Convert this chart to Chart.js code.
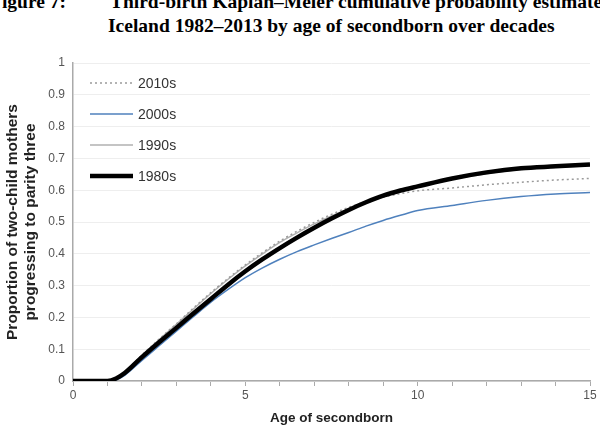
<!DOCTYPE html>
<html>
<head>
<meta charset="utf-8">
<script src="https://cdn.jsdelivr.net/npm/chart.js@4"></script>
<style>
  body { margin: 0; background: #fff; }
  #wrap { position: relative; width: 600px; height: 430px; overflow: hidden; }
  #title { position: absolute; left: 0; top: -10px; width: 600px; font: bold 19.5px "Liberation Serif", "Times New Roman", serif; color: #000; line-height: 24px; white-space: nowrap; }
  #title div { position: relative; }
  canvas { position: absolute; left: 0; top: 0; }
</style>
</head>
<body>
<div id="wrap">
  <div id="title">
    <div style="left:-10px">Figure 7:&nbsp;&nbsp;&nbsp;&nbsp;&nbsp;&nbsp;&nbsp;&nbsp;&nbsp;Third-birth Kaplan–Meier cumulative probability estimates for</div>
    <div style="left:108px">Iceland 1982–2013 by age of secondborn over decades</div>
  </div>
  <canvas id="chart" width="600" height="430"></canvas>
</div>
<script>
// age of secondborn (years)
const ages = [0, 0.5, 1, 1.25, 1.5, 2, 2.5, 3, 3.5, 4, 4.5, 5, 5.5, 6, 6.5, 7, 7.5, 8, 8.5, 9, 9.5, 10, 11, 12, 13, 14, 15];

const s2010 = [0, 0, 0, 0.008, 0.028, 0.082, 0.132, 0.18, 0.23, 0.278, 0.323, 0.365, 0.404, 0.44, 0.471, 0.499, 0.524, 0.546, 0.564, 0.578, 0.589, 0.598, 0.607, 0.617, 0.625, 0.632, 0.637];
const s2000 = [0, 0, 0, 0.004, 0.018, 0.065, 0.111, 0.157, 0.203, 0.248, 0.288, 0.325, 0.356, 0.383, 0.407, 0.428, 0.448, 0.467, 0.487, 0.505, 0.521, 0.536, 0.552, 0.568, 0.58, 0.588, 0.593];
const s1990 = [0, 0, 0, 0.008, 0.027, 0.08, 0.13, 0.178, 0.227, 0.275, 0.32, 0.362, 0.4, 0.436, 0.466, 0.494, 0.519, 0.541, 0.561, 0.579, 0.596, 0.609, 0.634, 0.652, 0.665, 0.672, 0.677];
const s1980 = [0, 0, 0, 0.008, 0.025, 0.075, 0.122, 0.167, 0.213, 0.258, 0.303, 0.345, 0.383, 0.418, 0.451, 0.482, 0.511, 0.538, 0.562, 0.583, 0.599, 0.612, 0.637, 0.656, 0.669, 0.675, 0.681];

const yTicks = [0, 0.1, 0.2, 0.3, 0.4, 0.5, 0.6, 0.7, 0.8, 0.9, 1];
const xLabels = [0, 5, 10, 15];

const pts = arr => ages.map((a, i) => ({ x: a, y: arr[i] }));

// legend drawn inside the plot, top left
const innerLegend = {
    id: 'innerLegend',
    afterDatasetsDraw(chart) {
        const ctx = chart.ctx;
        const area = chart.chartArea;
        ctx.save();
        chart.data.datasets.forEach((ds, i) => {
            const y = area.top + 20 + i * 31;
            const x0 = area.left + 17;
            ctx.beginPath();
            ctx.strokeStyle = ds.borderColor;
            ctx.lineWidth = ds.borderWidth;
            ctx.setLineDash(ds.borderDash || []);
            ctx.moveTo(x0, y);
            ctx.lineTo(x0 + 43, y);
            ctx.stroke();
            ctx.setLineDash([]);
            ctx.fillStyle = '#333';
            ctx.font = '14px "Liberation Sans", Arial, sans-serif';
            ctx.textBaseline = 'middle';
            ctx.fillText(ds.label, x0 + 48, y + 1);
        });
        ctx.restore();
    }
};

new Chart(document.getElementById('chart'), {
    type: 'line',
    data: {
        datasets: [
            { label: '2010s', data: pts(s2010), borderColor: '#9a9a9a', borderWidth: 1.5, borderDash: [2, 3], order: 2 },
            { label: '2000s', data: pts(s2000), borderColor: '#4f81bd', borderWidth: 1.5, order: 4 },
            { label: '1990s', data: pts(s1990), borderColor: '#b0b0b0', borderWidth: 1.5, order: 3 },
            { label: '1980s', data: pts(s1980), borderColor: '#000000', borderWidth: 4.5, order: 1 }
        ]
    },
    options: {
        responsive: false,
        animation: false,
        elements: { point: { radius: 0 }, line: { tension: 0.3, cubicInterpolationMode: 'monotone' } },
        layout: { padding: { top: 63, right: 10, left: 3, bottom: 0 } },
        plugins: { legend: { display: false }, tooltip: { enabled: false } },
        scales: {
            x: {
                type: 'linear',
                min: 0,
                max: 15,
                afterFit: s => { s.height = 49; },
                afterBuildTicks: s => { s.ticks = ages.filter(a => Number.isInteger(a)).map(v => ({ value: v })); },
                ticks: {
                    autoSkip: false,
                    maxRotation: 0,
                    color: '#555',
                    font: { family: '"Liberation Sans", Arial, sans-serif', size: 12 },
                    padding: 2,
                    callback: v => xLabels.includes(v) ? String(v) : ''
                },
                grid: { drawOnChartArea: false, color: '#aaa', tickLength: 5, lineWidth: 1 },
                border: { color: '#aaa', width: 1.5 },
                title: {
                    display: true,
                    text: 'Age of secondborn',
                    color: '#222',
                    font: { family: '"Liberation Sans", Arial, sans-serif', size: 13.5, weight: 'bold' },
                    padding: { top: 6 }
                }
            },
            y: {
                min: 0,
                max: 1,
                afterFit: s => { s.width = 70; },
                afterBuildTicks: s => { s.ticks = yTicks.map(v => ({ value: v })); },
                ticks: {
                    color: '#555',
                    font: { family: '"Liberation Sans", Arial, sans-serif', size: 12 },
                    padding: 8,
                    callback: v => String(Math.round(v * 10) / 10)
                },
                grid: { color: '#eeeeee', drawTicks: false, lineWidth: 1 },
                border: { color: '#aaa', width: 1.5 },
                title: {
                    display: true,
                    text: ['Proportion of two-child mothers', 'progressing to parity three'],
                    color: '#222',
                    font: { family: '"Liberation Sans", Arial, sans-serif', size: 15.5, weight: 'bold' },
                    padding: { top: 0, bottom: 2 }
                }
            }
        }
    },
    plugins: [innerLegend]
});
</script>
</body>
</html>
